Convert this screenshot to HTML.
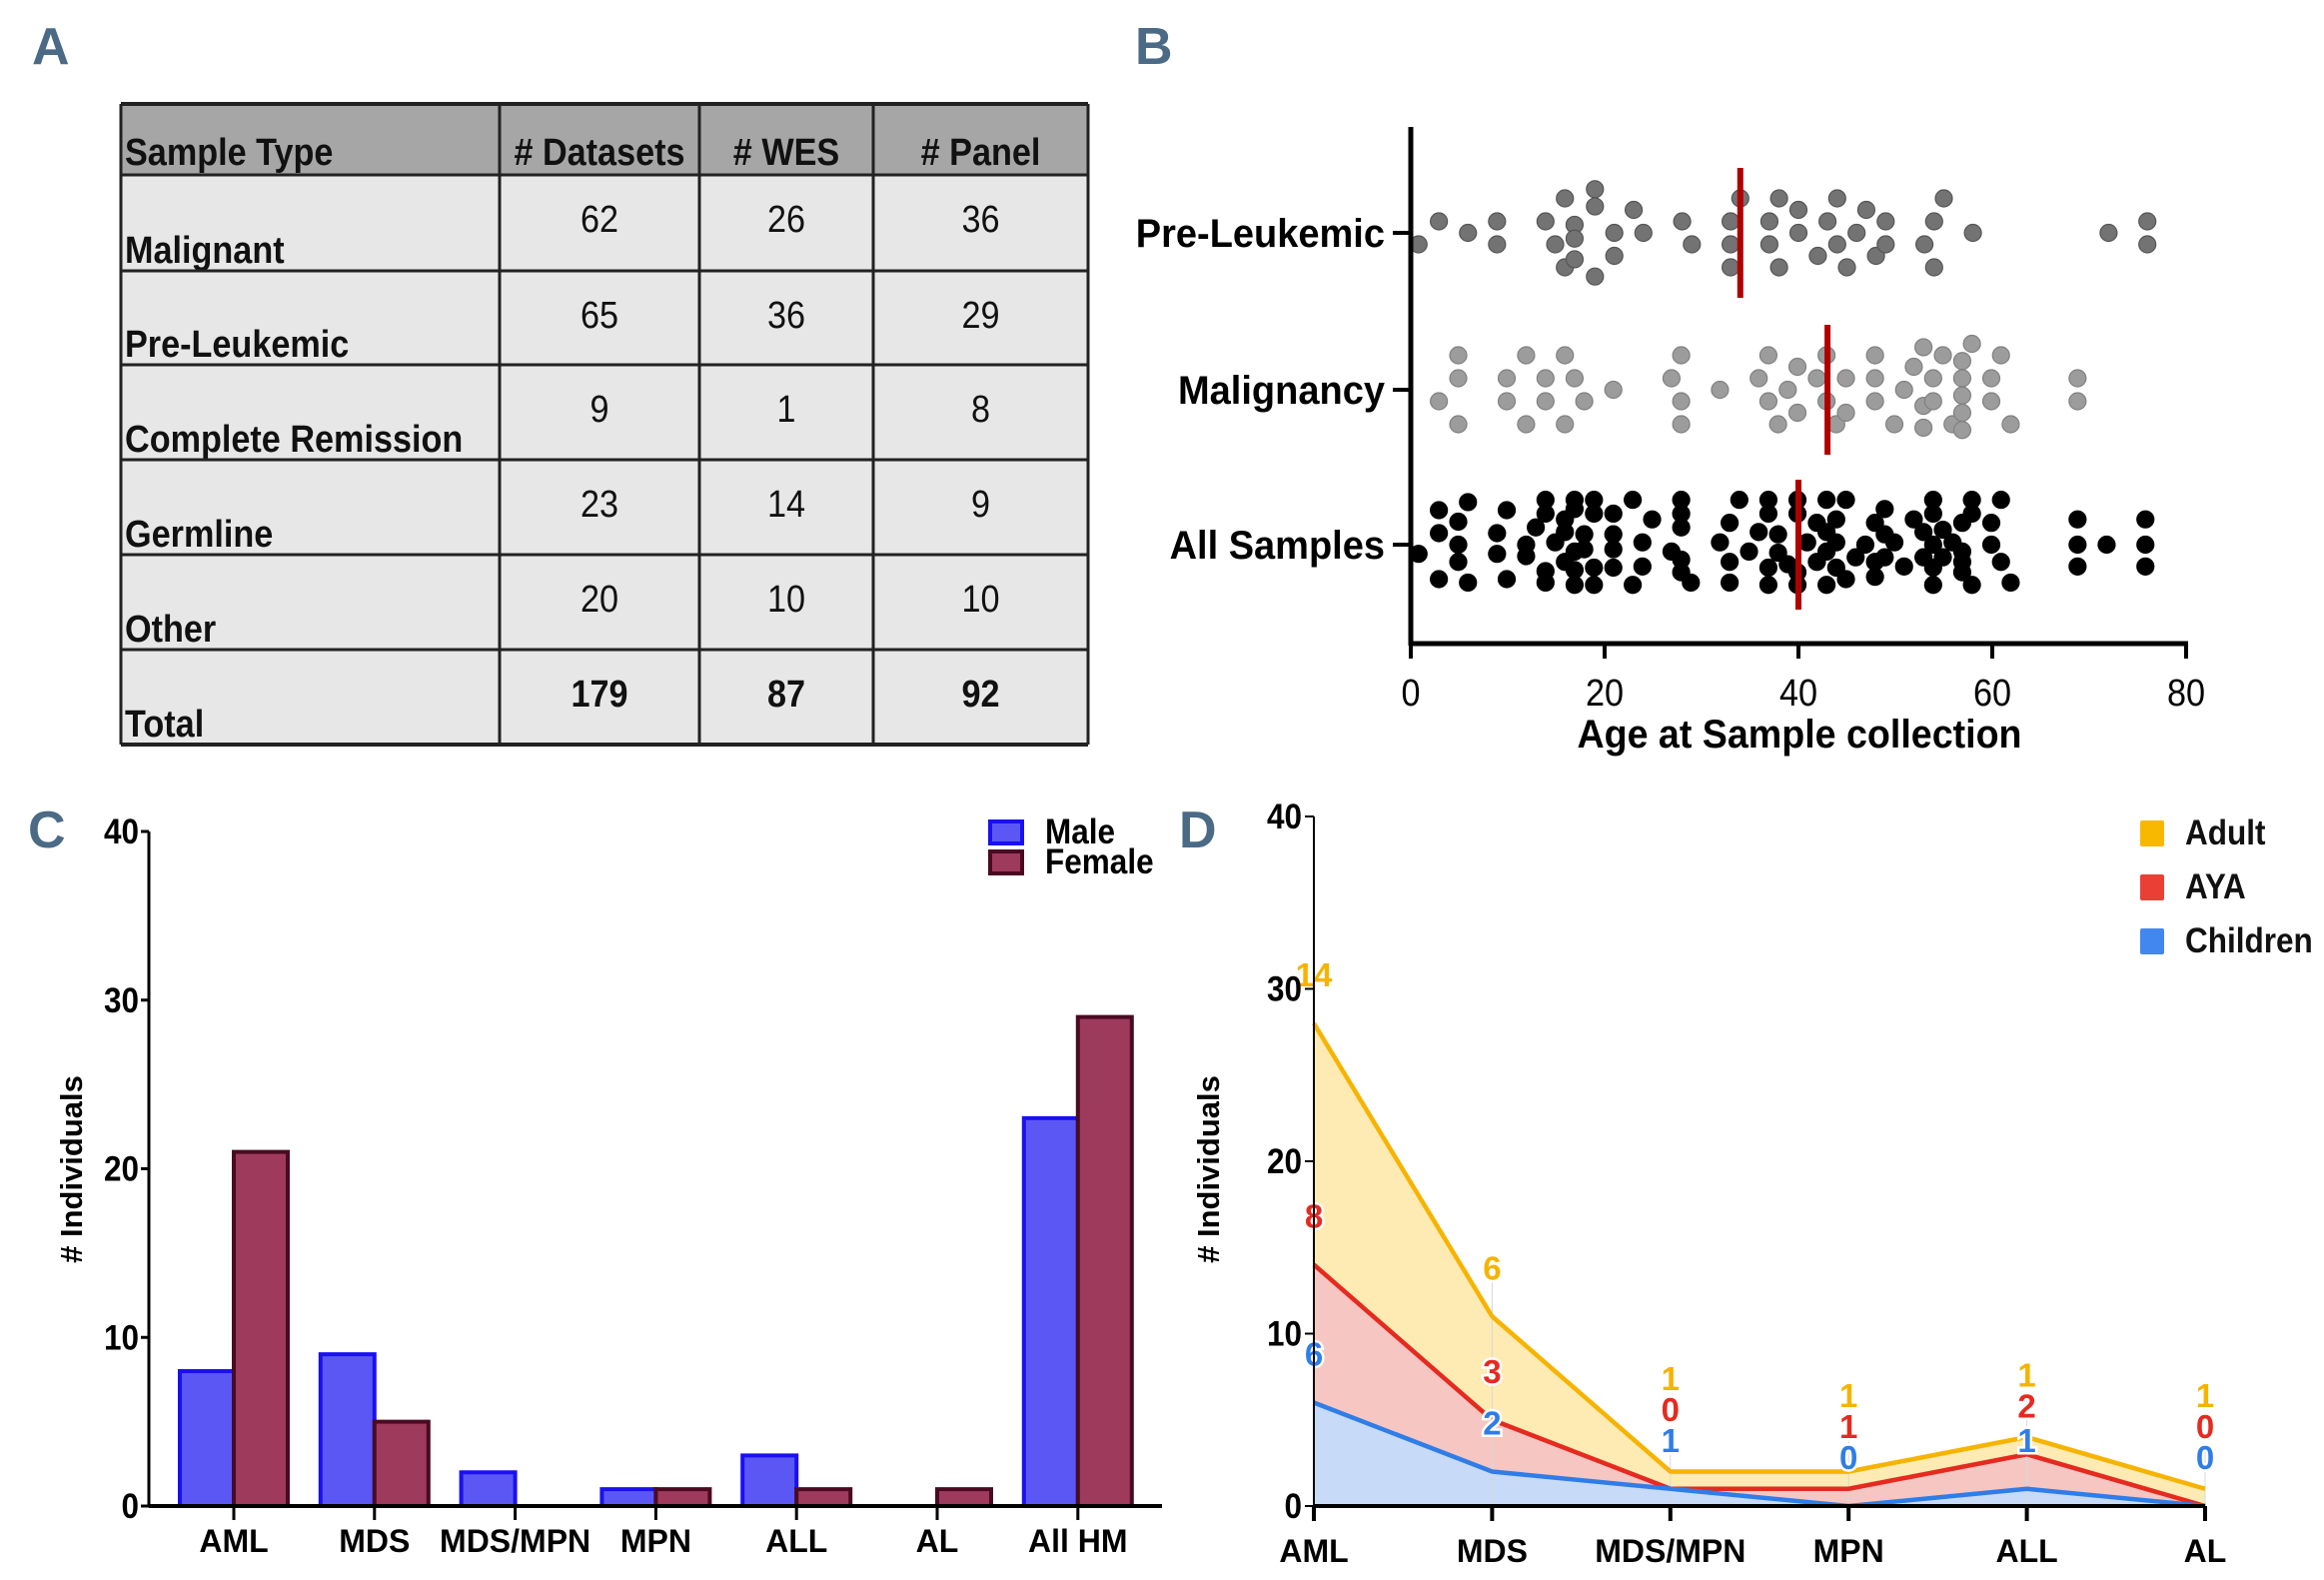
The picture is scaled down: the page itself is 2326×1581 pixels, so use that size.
<!DOCTYPE html>
<html><head><meta charset="utf-8">
<style>
html,body{margin:0;padding:0;background:#fff;}
svg{display:block;}
.c{font-family:"Liberation Sans Narrow","Liberation Sans",sans-serif;font-weight:bold;}
.a{font-family:"Liberation Sans",sans-serif;font-weight:bold;}
.n{font-family:"Liberation Sans Narrow","Liberation Sans",sans-serif;}
</style></head>
<body>
<svg id="fig" width="2326" height="1581" viewBox="0 0 2326 1581" xmlns="http://www.w3.org/2000/svg">
<g class="c" fill="#4a6a85" font-size="52">
<text x="32" y="64">A</text>
<text x="1136" y="64">B</text>
<text x="28" y="848">C</text>
<text x="1180" y="848">D</text>
</g>
<g id="table"></g>
<g id="pb"></g>
<g id="pc"></g>
<g id="pd"></g>
</svg>
<script>
// ---------- Table data ----------
const tableHeaders = ["Sample Type", "# Datasets", "# WES", "# Panel"];
const tableRows = ["Malignant", "Pre-Leukemic", "Complete Remission", "Germline", "Other", "Total"];
const tableDatasets = [62, 65, 9, 23, 20, 179];
const tableWES = [26, 36, 1, 14, 10, 87];
const tablePanel = [36, 29, 8, 9, 10, 92];

// ---------- Panel B data (age, swarm level) ----------
const preAges = [0.8,2.9,5.9,8.9,8.9,13.9,14.9,15.9,15.9,16.9,16.9,16.9,19,19,19,21,21,23,24,28,29,33,33,33,34,37,37,38,38,40,40,42,43,44,44,45,46,47,48,49,49,53,54,54,55,58,72,76,76];
const preLevels = [1,-1,0,-1,1,-1,1,-3,3,-0.7,0.5,2.3,-3.8,-2.3,3.8,0,2,-2,0,-1,1,-1,1,3,-3,-1,1,-3,3,-2,0,2,-1,-3,1,3,0,-2,2,-1,1,1,-1,3,-3,0,0,-1,1];
const malAges = [2.9,4.9,4.9,4.9,9.9,9.9,11.9,11.9,13.9,13.9,15.9,15.9,16.9,17.9,20.9,26.9,27.9,27.9,27.9,31.9,35.9,36.9,36.9,37.9,38.9,39.9,39.9,41.9,42.9,42.9,43.9,44.9,44.9,47.9,47.9,47.9,49.9,50.9,51.9,52.9,52.9,52.9,53.9,53.9,54.9,55.9,56.9,56.9,56.9,56.9,56.9,57.9,59.9,59.9,60.9,61.9,68.8,68.8];
const malLevels = [1,-3,-1,3,-1,1,-3,3,-1,1,-3,3,-1,1,0,-1,-3,1,3,0,-1,-3,1,3,0,-2,2,-1,-3,1,3,-1,2,-3,-1,1,3,0,-2,-3.7,1.4,3.3,-1,1,-3,3,-2.5,-1,0.5,2,3.5,-4,-1,1,-3,3,-1,1];
const allAges = [0.8,2.9,2.9,2.9,4.9,4.9,4.9,5.9,5.9,8.9,8.9,9.9,9.9,11.9,11.9,12.9,13.9,13.9,13.9,13.9,14.9,15.9,15.9,15.9,16.9,16.9,16.9,16.9,16.9,17.9,17.9,18.9,18.9,18.9,18.9,20.9,20.9,20.9,20.9,22.9,22.9,23.9,23.9,24.9,26.9,27.9,27.9,27.9,27.9,27.9,28.9,31.9,32.9,32.9,32.9,33.9,34.9,35.9,36.9,36.9,36.9,36.9,37.9,37.9,38.9,39.9,39.9,39.9,39.9,40.9,41.9,41.9,42.9,42.9,42.9,42.9,43.9,43.9,43.9,44.9,44.9,45.9,46.9,47.9,47.9,47.9,48.9,48.9,48.9,49.9,50.9,51.9,52.9,52.9,53.9,53.9,53.9,53.9,53.9,54.9,54.9,55.9,56.9,56.9,56.9,56.9,57.9,57.9,57.9,59.9,59.9,60.9,60.9,61.9,68.8,68.8,68.8,71.8,75.8,75.8,75.8];
const allLevels = [0.8,-3,-1,3,-2,0,1.5,-3.7,3.3,-1,0.8,-3,3,0,1,-1.5,-3.9,-2.7,2.3,3.3,-0.2,-2.2,-1.1,1.5,-3.9,-3.1,0.6,2.2,3.5,-0.9,0.4,-3.9,-2.7,2,3.5,-2.7,-0.9,0.4,2,-3.9,3.5,-0.2,1.9,-2.2,0.6,-3.9,-2.7,-1.5,1.3,2.4,3.3,-0.2,-1.9,1.5,3.3,-3.9,0.6,-1.1,-3.9,-2.7,2,3.5,-0.9,0.7,1.7,-3.9,-2.7,2.4,3.5,-0.2,-1.9,1.5,-3.9,-1.1,0.6,3.5,-2.2,-0.2,2,-3.9,3,1.1,0,-1.9,1.5,2.8,-3.1,-0.9,1.1,-0.2,1.9,-2.2,-1.1,1.1,-3.9,-2.7,0,2,3.5,-1.3,1.1,-0.2,-1.9,0.6,1.5,2.4,-3.9,-2.7,3.5,-1.9,0,-3.9,1.5,3.3,-2.2,0,1.9,0,-2.2,0,1.9];
const swarmGroups = ["Pre-Leukemic", "Malignancy", "All Samples"];
const swarmMedians = [34, 43, 40];
const ageTicks = [0, 20, 40, 60, 80];

// ---------- Panel C data ----------
const barCategories = ["AML", "MDS", "MDS/MPN", "MPN", "ALL", "AL", "All HM"];
const maleValues = [8, 9, 2, 1, 3, 0, 23];
const femaleValues = [21, 5, 0, 1, 1, 1, 29];
const countTicks = [0, 10, 20, 30, 40];

// ---------- Panel D data ----------
const areaCategories = ["AML", "MDS", "MDS/MPN", "MPN", "ALL", "AL"];
const childrenValues = [6, 2, 1, 0, 1, 0];
const ayaValues = [8, 3, 0, 1, 2, 0];
const adultValues = [14, 6, 1, 1, 1, 1];

const NS = "http://www.w3.org/2000/svg";
function mk(parent, tag, attrs, text) {
  const e = document.createElementNS(NS, tag);
  for (const k in attrs) e.setAttribute(k, attrs[k]);
  if (text !== undefined) e.textContent = text;
  parent.appendChild(e);
  return e;
}

// ---------- Table ----------
(function(){
  const g = document.getElementById('table');
  const colX = [121, 500, 700, 874, 1089];
  const rowY = [104, 175, 271, 365, 460, 555, 650, 745];
  const cols = [tableDatasets, tableWES, tablePanel];
  let r = mk(g, 'rect', {x:colX[0], y:rowY[0], width:colX[4]-colX[0], height:rowY[1]-rowY[0], fill:'#a6a6a6'});
  
  
  r = mk(g, 'rect', {x:colX[0], y:rowY[1], width:colX[4]-colX[0], height:rowY[7]-rowY[1], fill:'#e7e7e7'});
  
  
  for (let i = 0; i < 4; i++) {
    const t = mk(g, 'text', {x: i===0 ? colX[0]+4 : (colX[i]+colX[i+1])/2, y: rowY[1]-10, 'text-anchor': i===0?'start':'middle', 'font-size':38, class:'c', fill:'#111'}, tableHeaders[i]);
    
    
  }
  for (let j = 0; j < tableRows.length; j++) {
    const y0 = rowY[j+1], y1 = rowY[j+2];
    const t = mk(g, 'text', {x: colX[0]+4, y: y1-8, 'font-size':38, class:'c', fill:'#111'}, tableRows[j]);
    
    
    for (let i = 0; i < 3; i++) {
      const v = mk(g, 'text', {x:(colX[i+1]+colX[i+2])/2, y: y0+57, 'text-anchor':'middle', 'font-size':38, class: j===5?'c':'n', fill:'#111'}, cols[i][j]);
      
      
    }
  }
  rowY.forEach((y, k) => {
    const l = mk(g, 'line', {x1:colX[0], x2:colX[4], y1:y, y2:y, stroke:'#222', 'stroke-width': (k===0||k===7)?4:3});
    
    
  });
  colX.forEach((x, k) => {
    const l = mk(g, 'line', {x1:x, x2:x, y1:rowY[0], y2:rowY[7], stroke:'#222', 'stroke-width': 3});
    
    
  });
})();

// ---------- Panel B ----------
(function(){
  const g = document.getElementById('pb');
  const x0 = 1412, x1 = 2188, yTop = 127, yBot = 644;
  const xs = a => x0 + (a/80)*(x1-x0);
  const rowCY = [233, 390, 545];
  const step = 11.5;
  const sets = [[preAges, preLevels, '#737373', '#555'], [malAges, malLevels, '#9c9c9c', '#808080'], [allAges, allLevels, '#000', '#000']];
  sets.forEach((s, gi) => {
    for (let i = 0; i < s[0].length; i++) {
      const c = mk(g, 'circle', {cx: xs(s[0][i]), cy: rowCY[gi] + s[1][i]*step, r: 8.5, fill: s[2], stroke: s[3], 'stroke-width': 1.2});
      
      
    }
    const m = mk(g, 'line', {x1: xs(swarmMedians[gi]), x2: xs(swarmMedians[gi]), y1: rowCY[gi]-65, y2: rowCY[gi]+65, stroke:'#b00000', 'stroke-width': 6});
    
    
    const t = mk(g, 'line', {x1: 1394, x2: 1412, y1: rowCY[gi], y2: rowCY[gi], stroke:'#000', 'stroke-width': 4});
    
    
    const l = mk(g, 'text', {x: 1386, y: rowCY[gi]+14, 'text-anchor':'end', 'font-size': 40, class:'c', fill:'#000', 'data-k':'0.95'}, swarmGroups[gi]);
    
    
  });
  let ax = mk(g, 'line', {x1:x0, x2:x0, y1:yTop, y2:yBot+2, stroke:'#000', 'stroke-width':5});
  
  
  ax = mk(g, 'line', {x1:x0-2, x2:x1+2, y1:yBot, y2:yBot, stroke:'#000', 'stroke-width':5});
  
  
  ageTicks.forEach(v => {
    const t = mk(g, 'line', {x1:xs(v), x2:xs(v), y1:yBot, y2:yBot+15, stroke:'#000', 'stroke-width':4});
    
    
    const l = mk(g, 'text', {x: xs(v), y: 706, 'text-anchor':'middle', 'font-size': 38, class:'n', fill:'#000'}, v);
    
    
  });
  const xt = mk(g, 'text', {x: 1801, y: 748, 'text-anchor':'middle', 'font-size': 40, class:'c', fill:'#000', 'data-k':'0.94'}, 'Age at Sample collection');
  
  
})();

// ---------- Panel C ----------
(function(){
  const g = document.getElementById('pc');
  const ax0 = 149, axR = 1163, y0 = 1507, y40 = 832;
  const ys = v => y0 - (v/40)*(y0-y40);
  const cx0 = 234, cstep = 140.8, bw = 54;
  barCategories.forEach((c, i) => {
    const cx = cx0 + i*cstep;
    if (maleValues[i] > 0) {
      const b = mk(g, 'rect', {x: cx-bw, y: ys(maleValues[i]), width: bw, height: y0-ys(maleValues[i]), fill:'#5b57f5', stroke:'#1a10f0', 'stroke-width':4});
      
      
    }
    if (femaleValues[i] > 0) {
      const b = mk(g, 'rect', {x: cx, y: ys(femaleValues[i]), width: bw, height: y0-ys(femaleValues[i]), fill:'#9e3a5c', stroke:'#4a0a22', 'stroke-width':4});
      
      
    }
    const t = mk(g, 'line', {x1:cx, x2:cx, y1:y0, y2:y0+14, stroke:'#000', 'stroke-width':3});
    
    
    const l = mk(g, 'text', {x:cx, y:1553, 'text-anchor':'middle', 'font-size':32, class:'a', fill:'#000'}, c);
    
    
  });
  countTicks.forEach(v => {
    const t = mk(g, 'line', {x1:ax0-8, x2:ax0, y1:ys(v), y2:ys(v), stroke:'#000', 'stroke-width':3});
    
    
    const l = mk(g, 'text', {x:ax0-10, y:ys(v)+12, 'text-anchor':'end', 'font-size':35, class:'c', fill:'#000'}, v);
    
    
  });
  let a = mk(g, 'line', {x1:ax0, x2:ax0, y1:y40, y2:y0+1, stroke:'#000', 'stroke-width':3});
  
  
  a = mk(g, 'line', {x1:ax0, x2:axR, y1:y0, y2:y0, stroke:'#000', 'stroke-width':4});
  
  
  const yt = mk(g, 'text', {x:0, y:0, transform:'translate(82,1170) rotate(-90)', 'text-anchor':'middle', 'font-size':31, class:'a', fill:'#000'}, '# Individuals');
  
  
  let s = mk(g, 'rect', {x:991, y:822, width:32, height:22, fill:'#5b57f5', stroke:'#1a10f0', 'stroke-width':4});
  
  
  s = mk(g, 'rect', {x:991, y:852, width:32, height:22, fill:'#9e3a5c', stroke:'#4a0a22', 'stroke-width':4});
  
  
  s = mk(g, 'text', {x:1046, y:844, 'font-size':35, class:'c', fill:'#000'}, 'Male');
  
  
  s = mk(g, 'text', {x:1046, y:874, 'font-size':35, class:'c', fill:'#000'}, 'Female');
  
  
})();

// ---------- Panel D ----------
(function(){
  const g = document.getElementById('pd');
  const ax0 = 1315, axR = 2207, y0 = 1507, y40 = 817;
  const ys = v => y0 - (v/40)*(y0-y40);
  const xs = i => ax0 + i*(axR-ax0)/(areaCategories.length-1);
  const c1 = childrenValues.slice();
  const c2 = c1.map((v,i)=>v+ayaValues[i]);
  const c3 = c2.map((v,i)=>v+adultValues[i]);
  const layers = [[c3, null, '#fdebb3', '#f6b300', 'adult'], [c2, null, '#f6c6c2', '#e52a20', 'aya'], [c1, null, '#c7daf8', '#2f7de8', 'children']];
  layers.forEach(L => {
    let d = 'M' + xs(0) + ',' + y0;
    L[0].forEach((v,i) => { d += ' L' + xs(i) + ',' + ys(v); });
    d += ' L' + xs(L[0].length-1) + ',' + y0 + ' Z';
    const p = mk(g, 'path', {d: d, fill: L[2], stroke: '#fff', 'stroke-width': 1});
    
    
  });
  areaCategories.forEach((c, i) => {
    const gl = mk(g, 'line', {x1:xs(i), x2:xs(i), y1:ys(c3[i])-40, y2:y0, stroke:'#d8d8d8', 'stroke-width':1});
    
    
  });
  layers.forEach(L => {
    let d = '';
    L[0].forEach((v,i) => { d += (i? ' L':'M') + xs(i) + ',' + ys(v); });
    const p = mk(g, 'path', {d: d, fill:'none', stroke: L[3], 'stroke-width': 4.5, 'stroke-linejoin':'round'});
    
    
  });
  areaCategories.forEach((c, i) => {
    const yb = ys(c1[i]) - 49;
    const yr = Math.min(ys(c2[i]) - 49, yb - 31);
    const ya = Math.min(ys(c3[i]) - 49, yr - 31);
    [[yb, childrenValues[i], '#2f7de8', 'children'], [yr, ayaValues[i], '#e52a20', 'aya'], [ya, adultValues[i], '#f6b300', 'adult']].forEach(q => {
      const t = mk(g, 'text', {x: xs(i), y: q[0]+12, 'text-anchor':'middle', 'font-size':33, class:'a', fill:q[2], stroke:'#fff', 'stroke-width':5, 'paint-order':'stroke'}, q[1]);
      
      
    });
    const tk = mk(g, 'line', {x1:xs(i), x2:xs(i), y1:y0, y2:y0+15, stroke:'#000', 'stroke-width':4});
    
    
    const l = mk(g, 'text', {x:xs(i), y:1563, 'text-anchor':'middle', 'font-size':32, class:'a', fill:'#000'}, c);
    
    
  });
  countTicks.forEach(v => {
    const t = mk(g, 'line', {x1:ax0-9, x2:ax0, y1:ys(v), y2:ys(v), stroke:'#000', 'stroke-width':2});
    
    
    const l = mk(g, 'text', {x:ax0-12, y:ys(v)+12, 'text-anchor':'end', 'font-size':35, class:'c', fill:'#000'}, v);
    
    
  });
  let a = mk(g, 'line', {x1:ax0, x2:ax0, y1:y40, y2:y0, stroke:'#000', 'stroke-width':2});
  
  
  a = mk(g, 'line', {x1:ax0, x2:axR, y1:y0, y2:y0, stroke:'#000', 'stroke-width':4});
  
  
  const yt = mk(g, 'text', {x:0, y:0, transform:'translate(1220,1170) rotate(-90)', 'text-anchor':'middle', 'font-size':31, class:'a', fill:'#000'}, '# Individuals');
  
  
  const leg = [['Adult', '#f9b800', 833], ['AYA', '#ea3f35', 887], ['Children', '#4287f0', 941]];
  leg.forEach(L => {
    const s = mk(g, 'rect', {x:2142, y:L[2]-12, width:24, height:26, rx:2, fill:L[1]});
    
    
    const t = mk(g, 'text', {x:2187, y:L[2]+12, 'font-size':35, class:'c', fill:'#111'}, L[0]);
    
    
  });
})();

// condense narrow-style text (fallback font is wider than the original condensed face)
document.querySelectorAll('text.c, text.n').forEach(t => {
  const w = t.getComputedTextLength();
  const k = parseFloat(t.getAttribute('data-k') || '0.9');
  if (w > 0) {
    t.setAttribute('textLength', (w * k).toFixed(1));
    t.setAttribute('lengthAdjust', 'spacingAndGlyphs');
  }
});
</script>
</body></html>
